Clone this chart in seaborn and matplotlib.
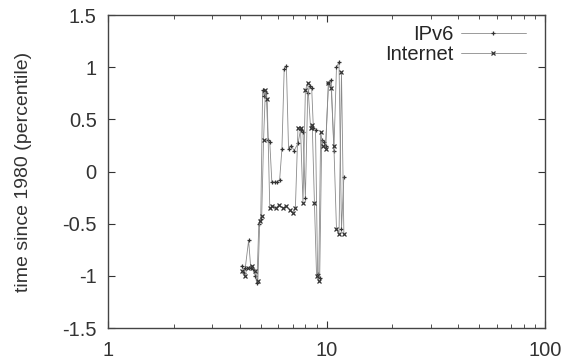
import numpy as np
import pandas as pd
import matplotlib
matplotlib.use("Agg")
import matplotlib.pyplot as plt
import seaborn as sns
from matplotlib.ticker import LogLocator, FixedLocator

# values
ipv6_x = [4.10, 4.18, 4.25, 4.40, 4.50, 4.62, 4.72, 4.80, 4.90, 5.00, 5.10, 5.20,
          5.30, 5.40, 5.50, 5.62, 5.80, 5.95, 6.10, 6.25, 6.40, 6.55, 6.70, 6.90,
          7.10, 7.40, 7.60, 7.80, 8.00, 8.20, 8.40, 8.55, 8.70, 8.90, 9.10, 9.30,
          9.50, 9.70, 9.90, 10.2, 10.5, 10.8, 11.1, 11.4, 11.7, 12.0]
ipv6_y = [-0.90, -0.97, -0.92, -0.66, -0.92, -0.93, -1.00, -1.07, -0.50, -0.45, 0.78, 0.72,
          0.75, 0.30, 0.28, -0.10, -0.10, -0.10, -0.08, 0.22, 0.98, 1.01, 0.22, 0.25,
          0.20, 0.27, 0.40, 0.38, -0.25, 0.75, 0.82, 0.80, 0.42, 0.40, -0.98, -1.02,
          0.30, 0.28, 0.25, 0.85, 0.88, 0.20, 1.00, 1.05, -0.55, -0.05]

inet_x = [4.12, 4.22, 4.35, 4.55, 4.70, 4.85, 4.95, 5.05, 5.15, 5.25, 5.35, 5.50,
          5.65, 5.85, 6.05, 6.30, 6.55, 6.80, 7.00, 7.20, 7.40, 7.60, 7.80, 8.00,
          8.20, 8.45, 8.60, 8.80, 9.00, 9.20, 9.40, 9.60, 9.90, 10.2, 10.5, 10.8,
          11.1, 11.4, 11.7, 12.0]
inet_y = [-0.95, -1.00, -0.92, -0.90, -0.95, -1.05, -0.47, -0.43, 0.30, 0.78, 0.70, -0.35,
          -0.33, -0.35, -0.32, -0.35, -0.33, -0.37, -0.40, -0.35, 0.42, 0.42, -0.30, 0.78,
          0.85, 0.42, 0.45, -0.30, -1.00, -1.05, 0.38, 0.25, 0.22, 0.85, 0.80, 0.25,
          -0.55, -0.60, 0.95, -0.60]

series_names = ["IPv6", "Internet"]

df = pd.concat([
    pd.DataFrame({"x": ipv6_x, "y": ipv6_y, "series": series_names[0]}),
    pd.DataFrame({"x": inet_x, "y": inet_y, "series": series_names[1]}),
])

sns.set_style("ticks")
plt.rcParams["font.family"] = ["Liberation Sans", "DejaVu Sans"]

fig = plt.figure(figsize=(5.65, 3.59), dpi=100)
ax = fig.add_axes([0.191, 0.086, 0.774, 0.872])

sns.lineplot(data=df, x="x", y="y", hue="series", style="series",
             palette=["#8a8a8a", "#8a8a8a"], markers=["+", "x"], dashes=False,
             markersize=3, linewidth=0.6, markeredgecolor="#333333",
             markeredgewidth=0.9, sort=False, ax=ax)

ax.set_xscale("log")
ax.set_xlim(1, 100)
ax.set_ylim(-1.5, 1.5)
ax.xaxis.set_major_locator(FixedLocator([1, 10, 100]))
ax.xaxis.set_minor_locator(LogLocator(base=10, subs=np.arange(2, 10)))
ax.xaxis.set_minor_formatter(plt.NullFormatter())
ax.set_xticklabels(["1", "10", "100"])
ax.set_yticks([-1.5, -1, -0.5, 0, 0.5, 1, 1.5])
ax.set_yticklabels(["-1.5", "-1", "-0.5", "0", "0.5", "1", "1.5"])
ax.tick_params(which="both", direction="in", top=True, right=True,
               labelsize=14.5, colors="#333333")
ax.tick_params(axis="y", pad=8)
ax.tick_params(axis="x", pad=9)
ax.tick_params(which="major", length=5)
ax.tick_params(which="minor", length=3)
for s in ax.spines.values():
    s.set_color("#444444")
    s.set_linewidth(1.0)

ax.set_xlabel("")
ax.set_ylabel("time since 1980 (percentile)", fontsize=14, color="#333333",
              labelpad=22)

leg = ax.legend(loc="upper right", frameon=False, fontsize=14.5,
                markerfirst=False, handlelength=3.2, borderaxespad=0.3,
                borderpad=0.2, labelspacing=0.05, handletextpad=0.4)
leg.set_bbox_to_anchor((0.978, 1.0), transform=ax.transAxes)

fig.savefig("out.png", dpi=100)
